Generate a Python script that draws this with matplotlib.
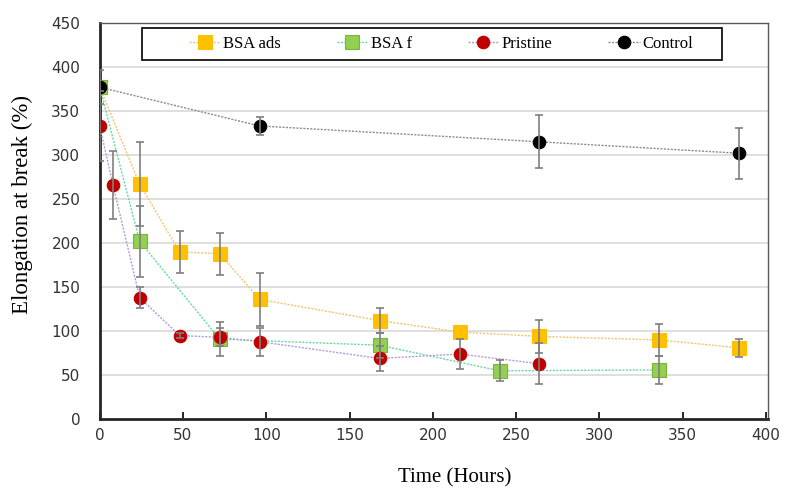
import matplotlib
matplotlib.use("Agg")
import matplotlib.pyplot as plt
from matplotlib.patches import Rectangle

plt.rcParams['font.family'] = ['Liberation Serif', 'DejaVu Serif']

# data
ads_t = [0, 24, 48, 72, 96, 168, 216, 264, 336, 384]
ads_v = [377, 267, 190, 188, 136, 112, 99, 94, 90, 81]
ads_e = [0, 48, 24, 24, 30, 14, 0, 19, 18, 10]

f_t = [0, 24, 72, 168, 240, 336]
f_v = [377, 202, 91, 84, 55, 56]
f_e = [0, 40, 19, 14, 12, 16]

pri_t = [0, 8, 24, 48, 72, 96, 168, 216, 264]
pri_v = [333, 266, 138, 95, 93, 88, 69, 74, 63]
pri_e = [40, 39, 12, 3, 10, 16, 14, 17, 23]

ctl_t = [0, 96, 264, 384]
ctl_v = [377, 333, 315, 302]
ctl_e = [19, 10, 30, 29]

series = [
    ("BSA ads", ads_t, ads_v, ads_e, 's', '#FFC000', '#FFC000', '#F2C46E'),
    ("BSA f", f_t, f_v, f_e, 's', '#92D050', '#7FB040', '#66D9A0'),
    ("Pristine", pri_t, pri_v, pri_e, 'o', '#C00000', '#C00000', '#B29CD6'),
    ("Control", ctl_t, ctl_v, ctl_e, 'o', '#000000', '#000000', '#8C8C8C'),
]

fig = plt.figure(figsize=(7.85, 4.88), dpi=100)
ax = fig.add_axes([0.127, 0.141, 0.851, 0.812])

for name, t, v, e, mk, fc, ec, lc in series:
    ax.plot(t, v, linestyle=(0, (1.5, 1.0)), color=lc, linewidth=1.0,
            marker=mk, markersize=9.5 if mk == 's' else 9,
            markerfacecolor=fc, markeredgecolor=ec, markeredgewidth=0.8,
            label=name, zorder=3)
    # skip points with no visible bar
    et = [a for a, b in zip(t, e) if b > 0]
    ev = [a for a, b in zip(v, e) if b > 0]
    ee = [b for b in e if b > 0]
    ax.errorbar(et, ev, yerr=ee, fmt='none', ecolor='#7F7F7F', elinewidth=1.2,
                capsize=3, capthick=1.2, zorder=4)

ax.set_xlim(0, 401)
ax.set_ylim(0, 450)
ax.set_xticks(range(0, 401, 50))
ax.set_yticks(range(0, 451, 50))
ax.yaxis.grid(True, color='#D9D9D9', linewidth=1.2)
ax.set_axisbelow(True)
ax.tick_params(axis='x', direction='in', length=5, width=1.2, pad=6)
ax.tick_params(axis='y', length=0, pad=14)
for lab in ax.get_xticklabels() + ax.get_yticklabels():
    lab.set_family('DejaVu Sans')
    lab.set_fontsize(11)
    lab.set_color('#333333')

for s in ['left', 'bottom']:
    ax.spines[s].set_linewidth(2.0)
    ax.spines[s].set_color('#262626')
for s in ['right', 'top']:
    ax.spines[s].set_linewidth(1.0)
    ax.spines[s].set_color('#595959')

ax.set_xlabel("Time (Hours)", fontsize=15)
ax.set_ylabel("Elongation at break (%)", fontsize=16.5)
ax.xaxis.set_label_coords(0.531, -0.124)
ax.yaxis.set_label_coords(-0.100, 0.543)

# legend box drawn separately, entries centred inside
ax.add_patch(Rectangle((0.064, 0.9066), 0.868, 0.081, transform=ax.transAxes,
                       facecolor='white', edgecolor='black', linewidth=1.2,
                       zorder=5, clip_on=False))
leg = ax.legend(loc='center', ncol=4, bbox_to_anchor=(0.511, 0.947),
                fontsize=12, frameon=False, handlelength=1.9, handletextpad=0.15,
                columnspacing=3.35, numpoints=1)
leg.set_zorder(6)

fig.savefig("out.png", dpi=100)
